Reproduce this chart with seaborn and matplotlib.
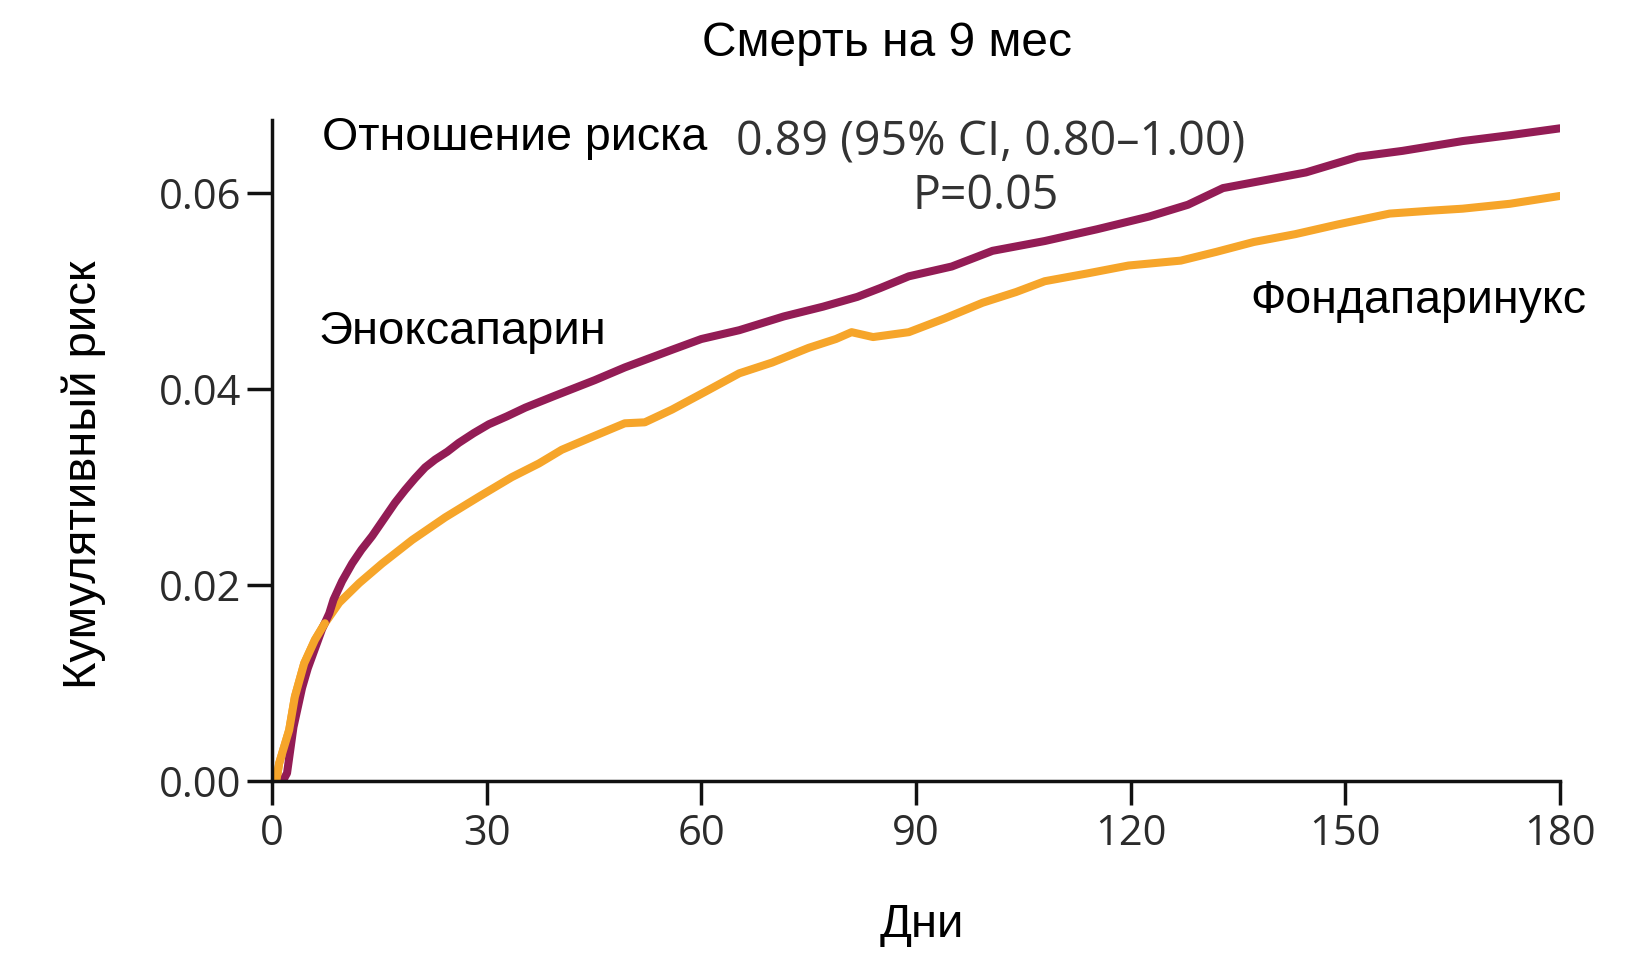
import pandas as pd
import matplotlib.pyplot as plt
import seaborn as sns

# Cumulative risk of death
days_enox = [0, 1.5, 2.1, 3.0, 4.2, 5.0, 6.0, 7.0, 8.0, 8.6, 9.8, 11.2, 12.5, 14.0, 15.6, 17.2,
             18.6, 20.0, 21.4, 22.8, 24.5, 26.1, 28.2, 30.3, 32.8, 35.4, 39.5, 45.1, 49.3, 55.9,
             60.0, 65.3, 71.5, 77.0, 81.8, 85.0, 89.0, 95.0, 100.7, 108.0, 115.3, 122.6, 128.0,
             132.9, 138.0, 144.5, 151.8, 158.0, 166.4, 173.0, 180.0]
risk_enox = [0.0, 0.0, 0.0008, 0.0055, 0.0095, 0.0115, 0.0135, 0.0155, 0.0171, 0.0185, 0.0204,
             0.0222, 0.0236, 0.025, 0.0267, 0.0284, 0.0297, 0.0309, 0.032, 0.0328, 0.0336, 0.0345,
             0.0355, 0.0364, 0.0372, 0.0381, 0.0393, 0.0409, 0.0422, 0.044, 0.0451, 0.046, 0.0474,
             0.0484, 0.0494, 0.0503, 0.0515, 0.0525, 0.0541, 0.0551, 0.0563, 0.0576, 0.0588,
             0.0605, 0.0612, 0.0621, 0.0637, 0.0643, 0.0653, 0.0659, 0.0666]

days_fonda = [0, 0.6, 1.0, 1.7, 2.4, 3.2, 4.5, 6.0, 7.4, 9.4, 12.2, 15.4, 19.6, 24.2, 28.9, 33.5,
              37.3, 40.5, 44.7, 49.3, 52.1, 55.9, 60.5, 65.3, 69.9, 75.0, 78.8, 81.0, 84.0, 89.0,
              94.0, 99.3, 104.0, 108.0, 114.0, 119.7, 127.0, 132.0, 137.2, 143.0, 149.0, 156.2,
              162.0, 166.4, 173.0, 180.0]
risk_fonda = [0.0, 0.0, 0.0018, 0.0035, 0.0052, 0.0086, 0.012, 0.0144, 0.0161, 0.0182, 0.0202,
              0.0222, 0.0246, 0.0269, 0.029, 0.031, 0.0324, 0.0338, 0.0351, 0.0365, 0.0366,
              0.0379, 0.0397, 0.0416, 0.0427, 0.0442, 0.0451, 0.0458, 0.0453, 0.0458, 0.0472,
              0.0488, 0.0499, 0.051, 0.0518, 0.0526, 0.0531, 0.054, 0.055, 0.0558, 0.0568,
              0.0579, 0.0582, 0.0584, 0.0589, 0.0597]

x_ticks = [0, 30, 60, 90, 120, 150, 180]
y_ticks = [0.00, 0.02, 0.04, 0.06]

W, H = 1638, 977
purple = "#931C55"
orange = "#F6A52A"

sns.set_theme(style="ticks")

df_enox = pd.DataFrame({"day": days_enox, "risk": risk_enox})
df_fonda = pd.DataFrame({"day": days_fonda, "risk": risk_fonda})

fig = plt.figure(figsize=(W / 100, H / 100), dpi=100)
ax = fig.add_axes([272 / W, 1 - 781 / H, (1560 - 272) / W, (781 - 120) / H])

lw = 5.8
sns.lineplot(data=df_fonda, x="day", y="risk", ax=ax, color=orange, linewidth=lw, sort=False)
sns.lineplot(data=df_enox, x="day", y="risk", ax=ax, color=purple, linewidth=lw, sort=False)
# orange sits on top over the first days where both curves overlap
sns.lineplot(data=df_fonda.iloc[:9], x="day", y="risk", ax=ax, color=orange, linewidth=lw,
             sort=False)

ax.set_xlim(0, 180)
ax.set_ylim(0, (781 - 120) / 98.0 / 100)
ax.set_xticks(x_ticks)
ax.set_yticks(y_ticks)
ax.set_xticklabels([str(t) for t in x_ticks])
ax.set_yticklabels([f"{t:.2f}" for t in y_ticks])
ax.set_xlabel("")
ax.set_ylabel("")

for side in ["top", "right"]:
    ax.spines[side].set_visible(False)
for side in ["left", "bottom"]:
    ax.spines[side].set_linewidth(2.5)
    ax.spines[side].set_color("#111111")

ax.tick_params(axis="x", length=17, width=2.5, color="#111111", pad=6)
ax.tick_params(axis="y", length=18, width=2.5, color="#111111", pad=4)
for lab in ax.get_xticklabels() + ax.get_yticklabels():
    lab.set_family("Open Sans")
    lab.set_fontsize(30)
    lab.set_color("#2b2b2b")

ax.set_facecolor("white")
fig.patch.set_facecolor("white")


def ftext(x, y, s, **kw):
    fig.text(x / W, 1 - y / H, s, **kw)


ftext(887, 44, "Смерть на 9 мес", ha="center", va="center",
      family="Liberation Sans", fontsize=34.5, color="black")
ftext(322, 138, "Отношение риска", ha="left", va="center",
      family="Liberation Sans", fontsize=33.5, color="black")
ftext(991, 143, "0.89 (95% CI, 0.80\u20131.00)", ha="center", va="center",
      family="Open Sans", fontsize=33.5, color="#333333")
ftext(986, 196, "P=0.05", ha="center", va="center",
      family="Open Sans", fontsize=33.5, color="#333333")
ftext(319, 332, "Эноксапарин", ha="left", va="center",
      family="Liberation Sans", fontsize=34, color="black")
ftext(1250, 301, "Фондапаринукс", ha="left", va="center",
      family="Liberation Sans", fontsize=33.5, color="black")
ftext(84, 475, "Кумулятивный риск", ha="center", va="center", rotation=90,
      family="Liberation Sans", fontsize=34, color="black")
ftext(922, 925, "Дни", ha="center", va="center",
      family="Liberation Sans", fontsize=34, color="black")

fig.savefig("out.png", dpi=100, facecolor="white")
plt.close(fig)
